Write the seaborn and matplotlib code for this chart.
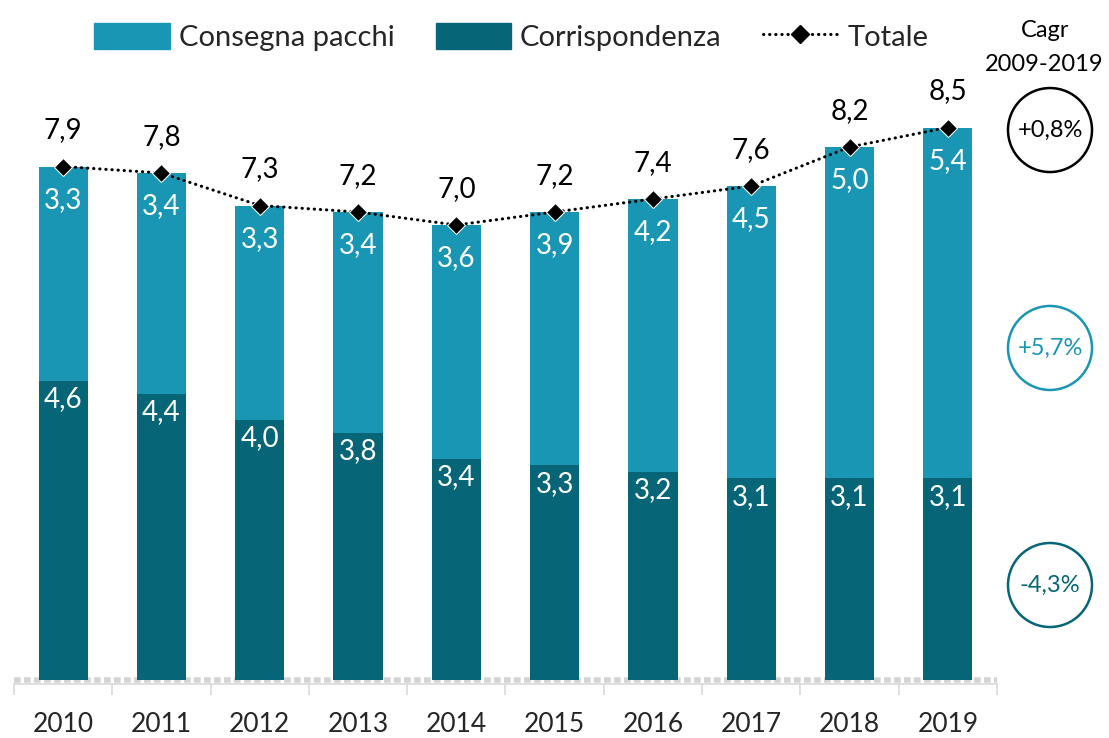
import matplotlib.pyplot as plt
import seaborn as sns
import pandas as pd
from matplotlib.patches import Patch, Ellipse
from matplotlib.lines import Line2D

anni = ['2010', '2011', '2012', '2013', '2014', '2015', '2016', '2017', '2018', '2019']
pacchi = [3.3, 3.4, 3.3, 3.4, 3.6, 3.9, 4.2, 4.5, 5.0, 5.4]
corrispondenza = [4.6, 4.4, 4.0, 3.8, 3.4, 3.3, 3.2, 3.1, 3.1, 3.1]
totale = [7.9, 7.8, 7.3, 7.2, 7.0, 7.2, 7.4, 7.6, 8.2, 8.5]
cagr_labels = ['+0,8%', '+5,7%', '-4,3%']

col_pacchi = '#1A96B5'
col_corr = '#066577'

df = pd.DataFrame({'anno': anni, 'pacchi': pacchi, 'corr': corrispondenza, 'totale': totale})

sns.set_style('white')
plt.rcParams['font.family'] = ['Lato', 'DejaVu Sans']

fig = plt.figure(figsize=(11.09, 7.38), dpi=100)
ax = fig.add_axes([0.0126, 0.0786, 0.8864, 0.8367])

# total bar in light colour, corrispondenza drawn on top of it
sns.barplot(data=df, x='anno', y='totale', color=col_pacchi, saturation=1, width=0.5,
            linewidth=0, ax=ax)
sns.barplot(data=df, x='anno', y='corr', color=col_corr, saturation=1, width=0.5,
            linewidth=0, ax=ax)
dots = (0, (0.1, 1.9))
sns.lineplot(data=df, x='anno', y='totale', color='black', linestyle=dots, lw=2.2,
             dash_capstyle='round', marker='D', markersize=9, ax=ax)

for i in range(len(anni)):
    fmt = lambda v: f'{v:.1f}'.replace('.', ',')
    ax.annotate(fmt(totale[i]), (i, totale[i]), xytext=(0, 26), textcoords='offset points',
                ha='center', va='center', fontsize=20, color='black')
    ax.annotate(fmt(pacchi[i]), (i, totale[i]), xytext=(0, -24), textcoords='offset points',
                ha='center', va='center', fontsize=20, color='white')
    ax.annotate(fmt(corrispondenza[i]), (i, corrispondenza[i]), xytext=(0, -13),
                textcoords='offset points', ha='center', va='center', fontsize=20, color='white')

ax.set_xlim(-0.5, 9.5)
ax.set_ylim(0, 9.5)
ax.set_xlabel('')
ax.set_ylabel('')
ax.set_yticks([])
for s in ['left', 'right', 'top']:
    ax.spines[s].set_visible(False)
ax.spines['bottom'].set_position(('outward', 3))
ax.spines['bottom'].set_color('#d9d9d9')
ax.spines['bottom'].set_linewidth(1.2)
ax.axhline(0, color='#d4d4d4', lw=4, ls=(0, (1.2, 0.6)), zorder=0, clip_on=False)
ax.set_xticks([i - 0.5 for i in range(len(anni) + 1)], minor=True)
ax.tick_params(axis='x', which='minor', bottom=True, length=8, color='#d9d9d9', width=1.2)
ax.tick_params(axis='x', which='major', length=0, pad=20, labelsize=19)

handles = [Patch(color=col_pacchi, label='Consegna pacchi'),
           Patch(color=col_corr, label='Corrispondenza'),
           Line2D([], [], color='black', ls=dots, lw=2.2, dash_capstyle='round',
                  marker='D', markersize=9, label='Totale')]
fig.legend(handles=handles, loc='center', bbox_to_anchor=(0.461, 0.95), ncol=3, frameon=False,
           fontsize=21, handlelength=2.6, handleheight=1.0, handletextpad=0.3, columnspacing=1.4)

fig.text(0.942, 0.958, 'Cagr', ha='center', va='center', fontsize=17, color='black')
fig.text(0.942, 0.912, '2009-2019', ha='center', va='center', fontsize=17, color='black')

circle_y = [0.8238, 0.5285, 0.2073]
circle_col = ['black', col_pacchi, col_corr]
for y, lab, c in zip(circle_y, cagr_labels, circle_col):
    fig.add_artist(Ellipse((0.9468, y), 84 / 1109, 84 / 738, transform=fig.transFigure,
                           fill=False, ec=c, lw=1.8))
    fig.text(0.9468, y, lab, ha='center', va='center', fontsize=17, color=c)

plt.savefig('out.png', dpi=100)
plt.close()
